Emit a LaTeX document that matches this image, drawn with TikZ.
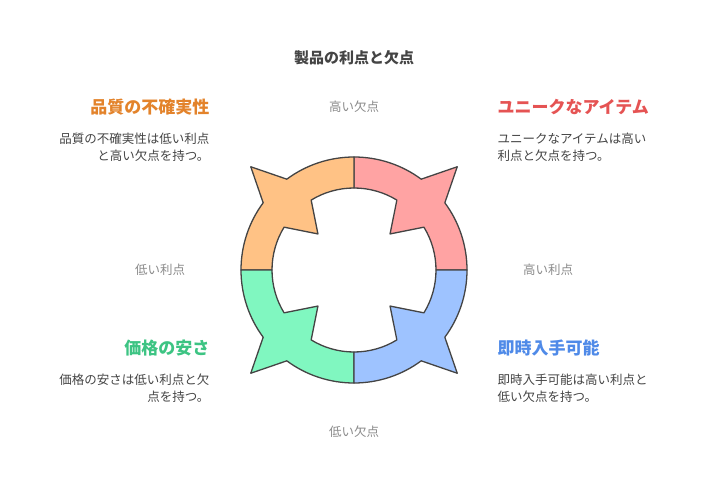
\documentclass[tikz,border=0pt]{standalone}
\usepackage{fontspec}
\setmainfont{Noto Sans CJK JP}
\definecolor{cRed}{HTML}{FFA3A3}
\definecolor{cOrange}{HTML}{FFC285}
\definecolor{cGreen}{HTML}{80F7C0}
\definecolor{cBlue}{HTML}{9EC3FF}
\definecolor{tRed}{HTML}{E55353}
\definecolor{tOrange}{HTML}{E3832B}
\definecolor{tGreen}{HTML}{3DC483}
\definecolor{tBlue}{HTML}{4F8AE8}
\definecolor{ink}{HTML}{444444}
\definecolor{axisgray}{HTML}{8A8A8A}
\tikzset{
  part/.style={draw=ink, line width=1.3pt, line join=round},
  head/.style={font=\fontsize{17}{20}\selectfont\bfseries},
  desc/.style={font=\fontsize{12.5}{17}\selectfont, text=ink},
  axis/.style={font=\fontsize{12.5}{15}\selectfont, text=axisgray}
}
% one quarter of the ring, turned by #1
\newcommand{\ringpart}[2]{
  \begin{scope}[shift={(354,223)}, rotate=#1]
    \filldraw[part, fill=#2] (90:113) arc (90:53.5:113) -- (45:146) -- (36.5:113)
      arc (36.5:0:113) -- (0:82) arc (0:31.5:82) -- (45:51) -- (58.5:82)
      arc (58.5:90:82) -- cycle;
  \end{scope}
}
\begin{document}
\begin{tikzpicture}[x=1pt, y=1pt]
  \useasboundingbox (0,0) rectangle (708,493);
  \ringpart{0}{cRed}
  \ringpart{90}{cOrange}
  \ringpart{180}{cGreen}
  \ringpart{270}{cBlue}

  \node[font=\fontsize{15}{18}\selectfont\bfseries, text=ink] (title) at (354,435) {製品の利点と欠点};

  \node[head, text=tOrange, anchor=east] (qual) at (213,386) {品質の不確実性};
  \node[desc, anchor=north east, align=right] (qualtxt) at (213,364) {品質の不確実性は低い利点\\と高い欠点を持つ。};
  \node[head, text=tRed, anchor=west] (uniq) at (494,386) {ユニークなアイテム};
  \node[desc, anchor=north west, align=left] (uniqtxt) at (494,364) {ユニークなアイテムは高い\\利点と欠点を持つ。};
  \node[head, text=tGreen, anchor=east] (cheap) at (213,145) {価格の安さ};
  \node[desc, anchor=north east, align=right] (cheaptxt) at (213,123) {価格の安さは低い利点と欠\\点を持つ。};
  \node[head, text=tBlue, anchor=west] (avail) at (494,145) {即時入手可能};
  \node[desc, anchor=north west, align=left] (availtxt) at (494,123) {即時入手可能は高い利点と\\低い欠点を持つ。};

  \node[axis] (hicost) at (354,386) {高い欠点};
  \node[axis] (lobene) at (160,223) {低い利点};
  \node[axis] (hibene) at (548,223) {高い利点};
  \node[axis] (locost) at (354,61) {低い欠点};
\end{tikzpicture}
\end{document}
